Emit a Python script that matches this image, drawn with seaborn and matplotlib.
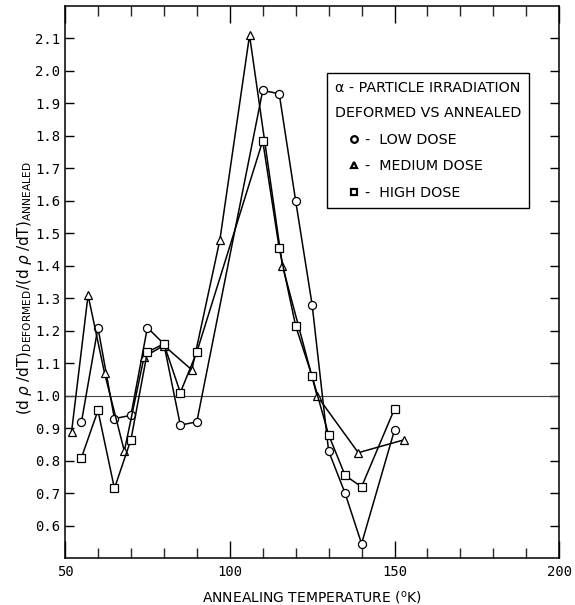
import numpy as np
import pandas as pd
import matplotlib
matplotlib.use("Agg")
import matplotlib.pyplot as plt
import seaborn as sns
from matplotlib.lines import Line2D
from matplotlib.ticker import FixedLocator, MultipleLocator

# ---- data ----
low_T = [55, 60, 65, 70, 75, 80, 85, 90, 110, 115, 120, 125, 130, 135, 140, 150]
low_R = [0.92, 1.21, 0.93, 0.94, 1.21, 1.16, 0.91, 0.92, 1.94, 1.93, 1.60, 1.28, 0.83, 0.70, 0.545, 0.895]

med_T = [52, 57, 62, 68, 74, 80, 88.5, 97, 106, 116, 126.5, 139, 153]
med_R = [0.89, 1.31, 1.07, 0.83, 1.12, 1.155, 1.08, 1.48, 2.11, 1.40, 1.00, 0.825, 0.865]

high_T = [55, 60, 65, 70, 75, 80, 85, 90, 110, 115, 120, 125, 130, 135, 140, 150]
high_R = [0.81, 0.955, 0.715, 0.865, 1.135, 1.16, 1.01, 1.135, 1.785, 1.455, 1.215, 1.06, 0.88, 0.755, 0.72, 0.96]

x_major = [50, 100, 150, 200]
y_ticks = [0.6, 0.7, 0.8, 0.9, 1.0, 1.1, 1.2, 1.3, 1.4, 1.5, 1.6, 1.7, 1.8, 1.9, 2.0, 2.1]

legend_title = "\u03b1 - PARTICLE IRRADIATION\nDEFORMED VS ANNEALED"
legend_labels = ["-  LOW DOSE", "-  MEDIUM DOSE", "-  HIGH DOSE"]

sns.set_theme(style="ticks")
plt.rcParams["font.family"] = ["DejaVu Sans"]
plt.rcParams["mathtext.fontset"] = "dejavusans"
plt.rcParams["text.color"] = "black"
plt.rcParams["axes.labelcolor"] = "black"

W, H = 575, 605
fig = plt.figure(figsize=(W / 100, H / 100), dpi=100)
L, R, T, B = 65, 559.3, 6, 558.3
ax = fig.add_axes([L / W, 1 - B / H, (R - L) / W, (B - T) / H])
ax.set_facecolor("white")

series = [
    (low_T, low_R, "o", 5.8),
    (med_T, med_R, "^", 6.0),
    (high_T, high_R, "s", 5.2),
]
for xs, ys, mk, ms in series:
    df = pd.DataFrame({"T": xs, "R": ys})
    sns.lineplot(data=df, x="T", y="R", ax=ax, color="black", lw=1.1,
                 marker=mk, ms=ms, mfc="white", mec="black", mew=0.9,
                 sort=False, estimator=None, legend=False, zorder=3)

ax.axhline(1.0, color="#444444", lw=0.8, zorder=1)

ax.set_xlim(50, 200)
ax.set_ylim(0.5, 2.2)
ax.xaxis.set_major_locator(FixedLocator(x_major))
ax.xaxis.set_minor_locator(MultipleLocator(10))
ax.set_yticks(y_ticks)
ax.set_yticklabels([f"{v:.1f}" for v in y_ticks])

ax.tick_params(axis="x", which="major", direction="in", length=12, width=1.0,
               top=True, bottom=True, pad=5, labelsize=10, colors="black",
               labelfontfamily="DejaVu Sans Mono")
ax.tick_params(axis="x", which="minor", direction="in", length=7, width=1.0,
               top=True, bottom=True)
ax.tick_params(axis="y", which="major", direction="in", length=6.5, width=1.0,
               left=True, right=True, pad=3.5, labelsize=10, colors="black",
               labelfontfamily="DejaVu Sans Mono")
for s in ax.spines.values():
    s.set_visible(True)
    s.set_color("black")
    s.set_linewidth(1.1)

ax.set_xlabel("ANNEALING TEMPERATURE ($^{\\mathrm{o}}$K)", fontsize=10, labelpad=7, color="black")
ax.set_ylabel(r"$\mathrm{(d}\;\rho\;\mathrm{/dT)}_{\mathrm{DEFORMED}}\mathrm{/(d}\;\rho\;\mathrm{/dT)}_{\mathrm{ANNEALED}}$",
              fontsize=11, color="black")
ax.yaxis.set_label_coords((34 - L) / (R - L), (B - 288) / (B - T))

fs_leg = 10.3
handles = [Line2D([], [], ls="none", marker=m, ms=4.8, mfc="white", mec="black", mew=1.6)
           for m in ["o", "^", "s"]]
leg = ax.legend(handles, legend_labels, title=legend_title, loc="upper left",
                bbox_to_anchor=((326.7 - L) / (R - L), (B - 73.3) / (B - T)),
                borderaxespad=0, fancybox=False, framealpha=1, edgecolor="black",
                prop={"size": fs_leg}, title_fontsize=fs_leg, alignment="left",
                handlelength=2.7, handletextpad=-0.55, labelspacing=0.88,
                borderpad=0.55)
leg.get_frame().set_linewidth(1.0)
leg.get_title().set_multialignment("center")
leg.get_title().set_linespacing(2.0)
for t in leg.get_texts():
    t.set_color("black")
leg.get_title().set_color("black")

fig.savefig("out.png", dpi=100)
